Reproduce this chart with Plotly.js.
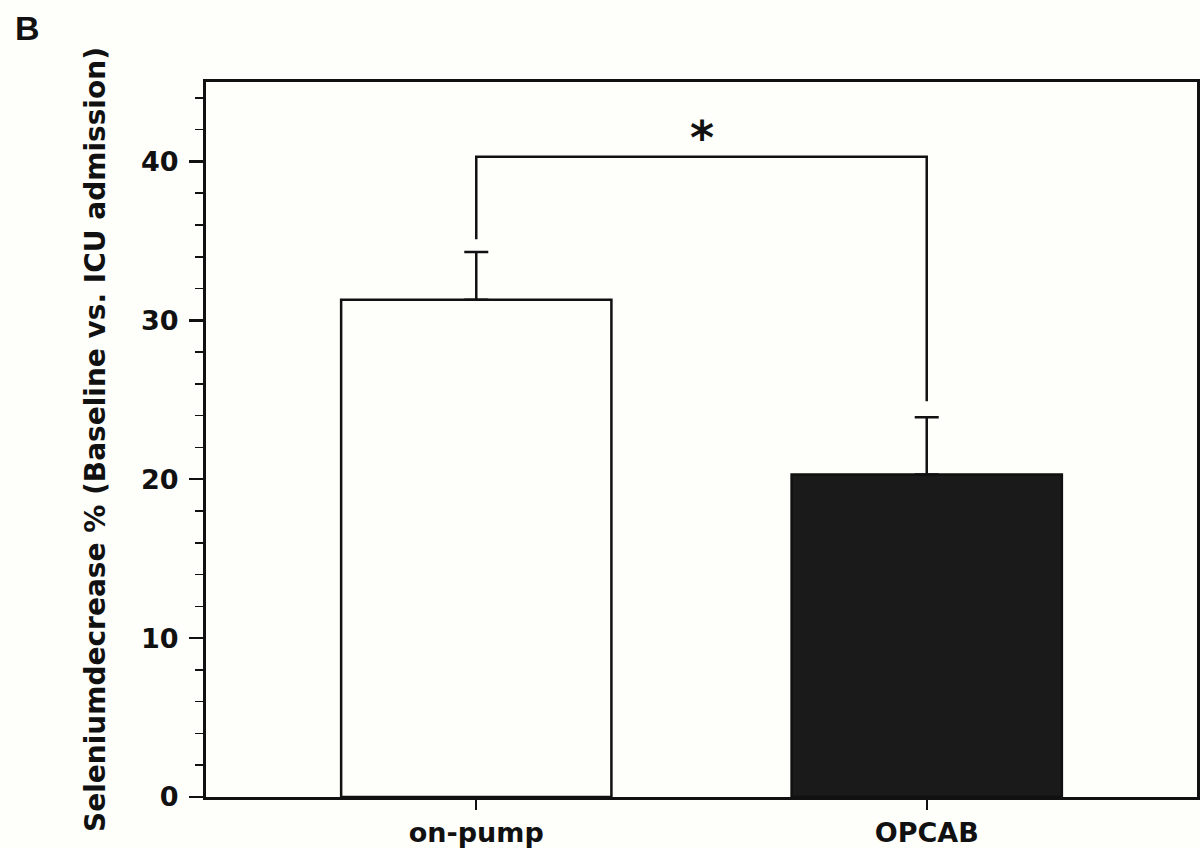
<!DOCTYPE html>
<html>
<head>
<meta charset="utf-8">
<script src="https://cdn.plot.ly/plotly-3.0.1.min.js"></script>
<style>html,body{margin:0;padding:0;background:#fefefb;}#chart{width:1200px;height:849px;}</style>
</head>
<body>
<div id="chart"></div>
<script>
const categories = ["on-pump", "OPCAB"];
const values = [31.3, 20.3];
const errors = [3.0, 3.6];
const barColors = ["#fefefb", "#1a1a1a"];
const bracketY = 40.3;
const bracketLegBottoms = [35.1, 24.9];
const sigLabel = "*";
const yTickVals = [0, 10, 20, 30, 40];

const font = "DejaVu Sans, Verdana, sans-serif";
const fontB = "Liberation Sans, Arial, sans-serif";

const bars = {
  type: "bar",
  x: categories,
  y: values,
  width: 0.6,
  marker: {color: barColors, line: {color: "#111", width: 2.5}},
  error_y: {type: "data", array: errors, arrayminus: [0, 0], symmetric: false, color: "#111", thickness: 2.5, width: 12},
  hoverinfo: "skip"
};

const bracket = {
  type: "scatter",
  mode: "lines",
  x: [categories[0], categories[0], categories[1], categories[1]],
  y: [bracketLegBottoms[0], bracketY, bracketY, bracketLegBottoms[1]],
  line: {color: "#111", width: 2.5},
  hoverinfo: "skip"
};

const layout = {
  width: 1200, height: 849,
  paper_bgcolor: "#fefefb",
  plot_bgcolor: "#fefefb",
  showlegend: false,
  margin: {l: 206, r: 3, t: 82, b: 52},
  font: {family: font, color: "#111"},
  xaxis: {
    type: "category",
    range: [-0.6, 1.6],
    showline: true, mirror: true, linecolor: "#111", linewidth: 3,
    ticks: "outside", ticklen: 10, tickwidth: 2, tickcolor: "#111",
    showgrid: false, zeroline: false,
    tickfont: {family: font, size: 27, color: "#111", weight: "bold"}
  },
  yaxis: {
    range: [0, 45],
    tickvals: yTickVals,
    showline: true, mirror: true, linecolor: "#111", linewidth: 3,
    ticks: "outside", ticklen: 14, tickwidth: 2.5, tickcolor: "#111",
    ticklabelstandoff: 5,
    minor: {dtick: 2, ticks: "outside", ticklen: 8, tickwidth: 1.5, tickcolor: "#111", showgrid: false},
    showgrid: false, zeroline: false,
    tickfont: {family: font, size: 27, color: "#111", weight: "bold"},
    title: {text: "Seleniumdecrease % (Baseline vs. ICU admission)", font: {family: font, size: 28, color: "#111", weight: "bold"}, standoff: 28}
  },
  annotations: [
    {x: 0.5, y: bracketY, xref: "x", yref: "y", text: sigLabel, showarrow: false, yanchor: "bottom", yshift: -10,
     font: {family: font, size: 46, color: "#111", weight: "bold"}},
    {x: -0.195, y: 1.105, xref: "paper", yref: "paper", text: "B", showarrow: false, xanchor: "left", yanchor: "top",
     font: {family: fontB, size: 34, color: "#111", weight: "bold"}}
  ]
};

Plotly.newPlot("chart", [bars, bracket], layout, {staticPlot: true, displayModeBar: false});
</script>
</body>
</html>
